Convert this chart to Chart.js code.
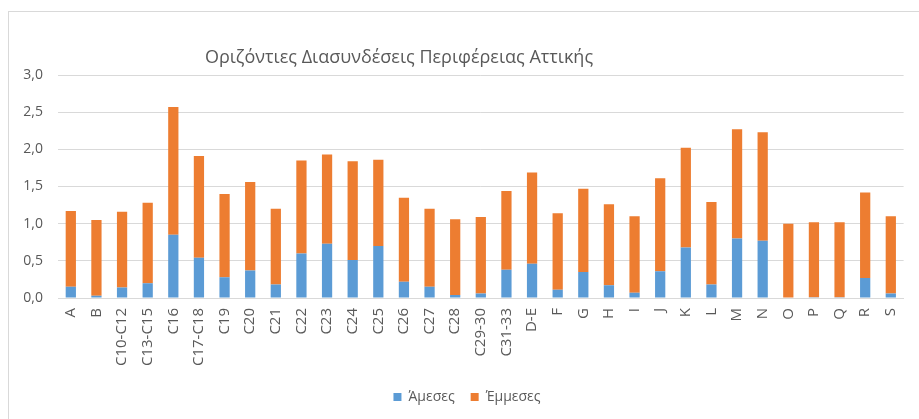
<!DOCTYPE html>
<html>
<head>
<meta charset="utf-8">
<script src="https://cdn.jsdelivr.net/npm/chart.js@4"></script>
<style>
  html, body { margin: 0; padding: 0; background: #fff; overflow: hidden; }
  #frame { position: absolute; left: 8px; top: 11px; width: 960px; height: 460px;
           border-left: 1px solid #D9D9D9; border-top: 1px solid #D9D9D9; }
  #wrap { position: absolute; left: 0; top: 0; width: 919px; height: 419px; }
</style>
</head>
<body>
<div id="frame"></div>
<div id="wrap"><canvas id="chart"></canvas></div>
<script>
let chartTitle = "Οριζόντιες Διασυνδέσεις Περιφέρειας Αττικής";
let categories = ["A", "B", "C10-C12", "C13-C15", "C16", "C17-C18", "C19", "C20", "C21", "C22",
    "C23", "C24", "C25", "C26", "C27", "C28", "C29-30", "C31-33", "D-E", "F",
    "G", "H", "I", "J", "K", "L", "M", "N", "O", "P", "Q", "R", "S"];
// direct (Άμεσες) values
let directValues = [0.15, 0.03, 0.14, 0.20, 0.85, 0.54, 0.28, 0.37, 0.18, 0.60,
    0.73, 0.51, 0.70, 0.22, 0.15, 0.04, 0.06, 0.38, 0.46, 0.11,
    0.35, 0.17, 0.07, 0.36, 0.68, 0.18, 0.80, 0.77, 0.00, 0.01, 0.01, 0.27, 0.06];
// indirect (Έμμεσες) values
let indirectValues = [1.02, 1.02, 1.02, 1.08, 1.72, 1.37, 1.12, 1.19, 1.02, 1.25,
    1.20, 1.33, 1.16, 1.13, 1.05, 1.02, 1.03, 1.06, 1.23, 1.03,
    1.12, 1.09, 1.03, 1.25, 1.34, 1.11, 1.47, 1.46, 1.00, 1.01, 1.01, 1.15, 1.04];
let yTicks = [0, 0.5, 1, 1.5, 2, 2.5, 3];

const textColor = '#595959';
const gridColor = '#D9D9D9';
const fontFamily = '"Open Sans", Lato, sans-serif';

// Excel-style title, sitting left of centre
const titlePlugin = {
    id: 'excelTitle',
    afterLayout(chart) {
        // legend sits a little right of the canvas centre in the original
        chart.legend.left += 14;
        chart.legend.right += 14;
    },
    afterDraw(chart) {
        const ctx = chart.ctx;
        ctx.save();
        ctx.fillStyle = textColor;
        ctx.font = '18px ' + fontFamily;
        ctx.textAlign = 'center';
        ctx.textBaseline = 'middle';
        ctx.fillText(chartTitle, 399, 58);
        ctx.restore();
    }
};

const chartCanvas = document.getElementById('chart').getContext('2d');
new Chart(chartCanvas, {
    type: 'bar',
    data: {
        labels: categories,
        datasets: [{
            label: 'Άμεσες',
            data: directValues,
            backgroundColor: '#5B9BD5',
            borderWidth: 0
        }, {
            label: 'Έμμεσες',
            data: indirectValues,
            backgroundColor: '#ED7D31',
            borderWidth: 0
        }]
    },
    options: {
        responsive: true,
        maintainAspectRatio: false,
        animation: false,
        layout: {
            padding: { left: 0, right: 13, top: 75, bottom: 5 }
        },
        datasets: {
            bar: { barPercentage: 0.4, categoryPercentage: 1 }
        },
        plugins: {
            legend: {
                position: 'bottom',
                labels: {
                    color: textColor,
                    font: { family: fontFamily, size: 14 },
                    boxWidth: 8,
                    boxHeight: 8,
                    padding: 16
                }
            },
            tooltip: { enabled: false }
        },
        scales: {
            x: {
                stacked: true,
                grid: { display: false, drawTicks: false },
                border: { color: gridColor },
                ticks: {
                    color: textColor,
                    font: { family: fontFamily, size: 15 },
                    minRotation: 90,
                    maxRotation: 90,
                    autoSkip: false,
                    padding: 10
                },
                afterFit: (scale) => { scale.height = 76; }
            },
            y: {
                stacked: true,
                min: 0,
                max: 3,
                afterBuildTicks: (scale) => { scale.ticks = yTicks.map(v => ({ value: v })); },
                grid: { color: gridColor, drawTicks: false },
                border: { display: false },
                ticks: {
                    color: textColor,
                    font: { family: fontFamily, size: 14 },
                    padding: 15,
                    callback: (v) => v.toFixed(1).replace('.', ',')
                },
                afterFit: (scale) => { scale.width = 58; }
            }
        }
    },
    plugins: [titlePlugin]
});
</script>
</body>
</html>
